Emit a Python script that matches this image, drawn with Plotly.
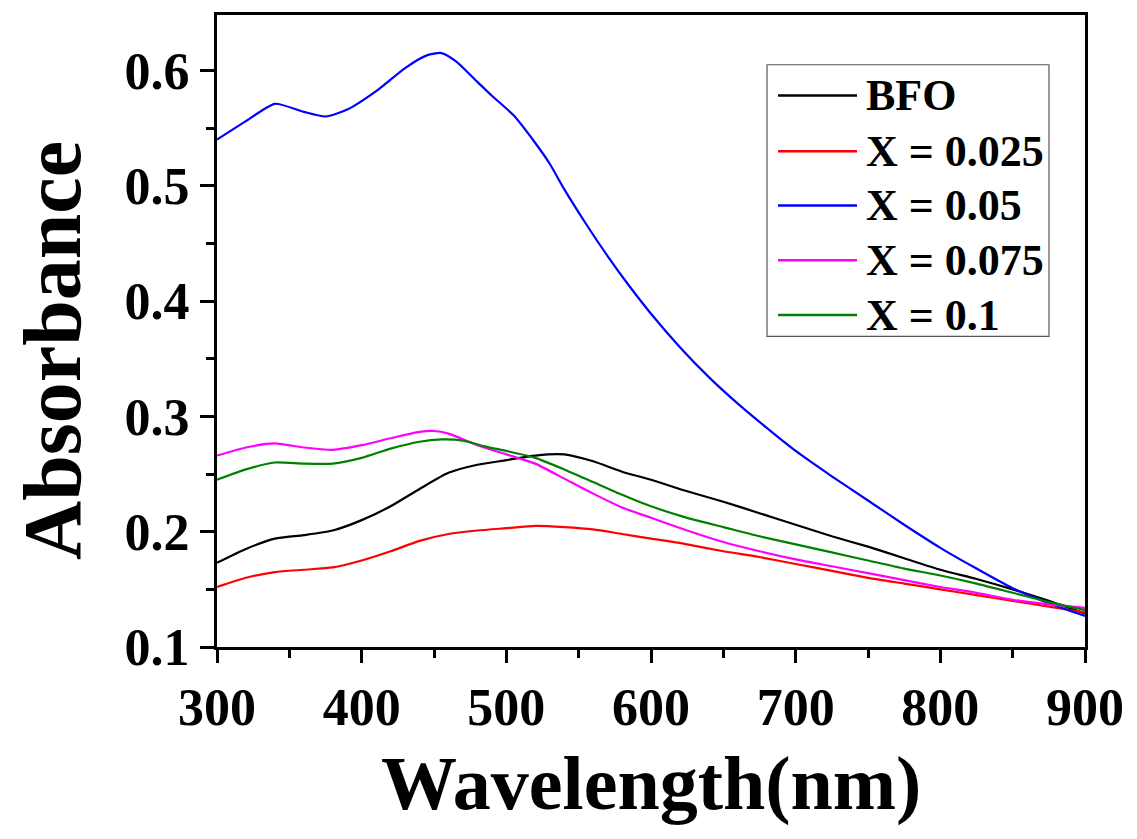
import plotly.graph_objects as go

# ---- data ----
wl_bfo = [300, 320, 340, 360, 380, 400, 420, 440, 460, 480, 500, 520, 540, 560, 580, 600,
          625, 650, 675, 700, 725, 750, 775, 800, 825, 850, 875, 900]
abs_bfo = [0.173, 0.185, 0.194, 0.197, 0.201, 0.210, 0.222, 0.237, 0.251, 0.258, 0.262, 0.266,
           0.267, 0.261, 0.252, 0.245, 0.235, 0.226, 0.216, 0.206, 0.196, 0.187, 0.177, 0.167,
           0.159, 0.150, 0.140, 0.129]

wl_025 = [300, 320, 340, 360, 380, 400, 420, 440, 460, 480, 500, 520, 540, 560, 580, 600,
          625, 650, 675, 700, 725, 750, 775, 800, 825, 850, 875, 900]
abs_025 = [0.152, 0.160, 0.165, 0.167, 0.169, 0.175, 0.183, 0.192, 0.198, 0.201, 0.203, 0.205,
           0.204, 0.202, 0.198, 0.194, 0.189, 0.183, 0.178, 0.172, 0.166, 0.160, 0.155, 0.150,
           0.145, 0.140, 0.135, 0.130]

wl_05 = [300, 320, 340, 360, 375, 390, 410, 430, 445, 455, 465, 480, 490, 505, 520, 530, 540,
         555, 570, 585, 600, 620, 640, 660, 680, 700, 725, 750, 775, 800, 825, 850, 875, 900]
abs_05 = [0.540, 0.556, 0.571, 0.564, 0.560, 0.566, 0.582, 0.602, 0.613, 0.615, 0.608, 0.590,
          0.578, 0.561, 0.537, 0.519, 0.497, 0.467, 0.439, 0.413, 0.389, 0.360, 0.334, 0.311,
          0.290, 0.270, 0.248, 0.227, 0.206, 0.186, 0.168, 0.151, 0.138, 0.127]

wl_075 = [300, 320, 340, 360, 380, 400, 420, 440, 450, 460, 480, 500, 520, 540, 560, 580, 600,
          625, 650, 675, 700, 725, 750, 775, 800, 825, 850, 875, 900]
abs_075 = [0.266, 0.273, 0.2765, 0.273, 0.271, 0.275, 0.281, 0.2865, 0.2873, 0.285, 0.275,
           0.267, 0.259, 0.246, 0.233, 0.221, 0.212, 0.201, 0.191, 0.183, 0.176, 0.170, 0.164,
           0.158, 0.152, 0.147, 0.141, 0.137, 0.134]

wl_1 = [300, 320, 340, 360, 380, 400, 420, 440, 455, 470, 485, 500, 520, 540, 560, 580, 600,
        625, 650, 675, 700, 725, 750, 775, 800, 825, 850, 875, 900]
abs_1 = [0.245, 0.254, 0.260, 0.259, 0.259, 0.264, 0.272, 0.278, 0.280, 0.279, 0.274, 0.270,
         0.264, 0.254, 0.243, 0.232, 0.222, 0.212, 0.204, 0.196, 0.189, 0.182, 0.175, 0.168,
         0.162, 0.155, 0.147, 0.139, 0.132]

series_names = ["BFO", "X = 0.025", "X = 0.05", "X = 0.075", "X = 0.1"]
series_x = [wl_bfo, wl_025, wl_05, wl_075, wl_1]
series_y = [abs_bfo, abs_025, abs_05, abs_075, abs_1]
colors = ["#000000", "#ff0000", "#0000ff", "#ff00ff", "#008000"]

x_ticks = [300, 400, 500, 600, 700, 800, 900]
y_ticks = [0.1, 0.2, 0.3, 0.4, 0.5, 0.6]

FONT = "Liberation Serif, Times New Roman, serif"

fig = go.Figure()
for name, xs, ys, c in zip(series_names, series_x, series_y, colors):
    fig.add_trace(go.Scatter(x=xs, y=ys, mode="lines", name=name, showlegend=False,
                             line=dict(color=c, width=2.2, shape="spline", smoothing=0.6)))

# page body has an 8px default margin; compensate so the plot lands where intended
OFF = 8
W, H = 1137 - OFF, 839 - OFF
L, R, T, B = 217 - OFF, 52, 12 - OFF, 192
pw, ph = W - L - R, H - T - B

def px_to_paper_x(px):
    return (px - OFF - L) / pw

def px_to_paper_y(py):
    return (H - B - (py - OFF)) / ph

# manual legend (box, sample lines, labels)
fig.add_shape(type="rect", xref="paper", yref="paper",
              x0=px_to_paper_x(767), x1=px_to_paper_x(1049),
              y0=px_to_paper_y(335), y1=px_to_paper_y(62),
              line=dict(color="#555555", width=1.2), fillcolor="white", layer="below")
leg_y = [93, 149, 203.5, 258.5, 313.5]
for name, c, yy in zip(series_names, colors, leg_y):
    fig.add_shape(type="line", xref="paper", yref="paper",
                  x0=px_to_paper_x(778), x1=px_to_paper_x(857),
                  y0=px_to_paper_y(yy), y1=px_to_paper_y(yy),
                  line=dict(color=c, width=2.5))
    fig.add_annotation(xref="paper", yref="paper", x=px_to_paper_x(864), y=px_to_paper_y(yy),
                       text=name, showarrow=False, xanchor="left", yanchor="middle",
                       font=dict(family=FONT, size=44, color="black", weight="bold"))

# axis titles
fig.add_annotation(xref="paper", yref="paper", x=0.5, y=0, yanchor="top", yshift=-92,
                   text="Wavelength(nm)", showarrow=False,
                   font=dict(family=FONT, size=76, color="black", weight="bold"))
fig.add_annotation(xref="paper", yref="paper", x=0, y=0.5, xanchor="center", yanchor="middle",
                   xshift=-165, yshift=-20, textangle=-90,
                   text="Absorbance", showarrow=False,
                   font=dict(family=FONT, size=82, color="black", weight="bold"))

axis_common = dict(showgrid=False, zeroline=False, showline=True, linecolor="black",
                   linewidth=3, mirror=True, ticks="outside", tickwidth=3,
                   tickcolor="black",
                   tickfont=dict(family=FONT, size=52, color="black", weight="bold"))

fig.update_xaxes(range=[300, 900], tickvals=x_ticks, ticklen=13,
                 minor=dict(ticks="outside", ticklen=8, tickwidth=3, dtick=50, tickcolor="black"),
                 **axis_common)
fig.update_yaxes(range=[0.1, 0.648], tickvals=y_ticks, ticktext=[f"{v:.1f}" for v in y_ticks],
                 ticklen=14,
                 minor=dict(ticks="outside", ticklen=8, tickwidth=3, dtick=0.05, tickcolor="black"),
                 **axis_common)

fig.update_layout(width=W, height=H, margin=dict(l=L, r=R, t=T, b=B),
                  plot_bgcolor="white", paper_bgcolor="white", showlegend=False)

fig.write_html("out.html")
